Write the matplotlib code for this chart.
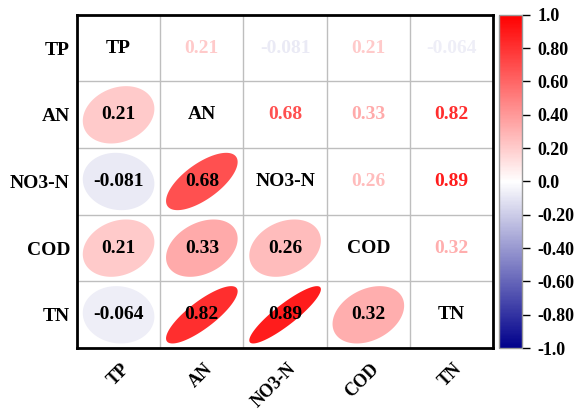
import numpy as np
import matplotlib.pyplot as plt
import matplotlib.transforms as mtransforms
from matplotlib.colors import LinearSegmentedColormap, Normalize
from matplotlib.patches import Polygon
from matplotlib import cm

plt.rcParams['font.family'] = ['Liberation Serif', 'DejaVu Serif']
plt.rcParams['font.weight'] = 'bold'

names = ['TP', 'AN', 'NO3-N', 'COD', 'TN']
corr = np.array([
    [1.0, 0.21, -0.081, 0.21, -0.064],
    [0.21, 1.0, 0.68, 0.33, 0.82],
    [-0.081, 0.68, 1.0, 0.26, 0.89],
    [0.21, 0.33, 0.26, 1.0, 0.32],
    [-0.064, 0.82, 0.89, 0.32, 1.0],
])
cbar_ticks = [1.0, 0.8, 0.6, 0.4, 0.2, 0.0, -0.2, -0.4, -0.6, -0.8, -1.0]
cbar_labels = ['1.0', '0.80', '0.60', '0.40', '0.20', '0.0',
               '-0.20', '-0.40', '-0.60', '-0.80', '-1.0']


def fmt(v):
    return '%.2g' % v


cmap = LinearSegmentedColormap.from_list('bwr2', ['#00008B', '#FFFFFF', '#FF0000'])
norm = Normalize(-1, 1)

fig = plt.figure(figsize=(5.83, 4.12), dpi=100)
ax = fig.add_axes([0.132, 0.155, 0.714, 0.809])
cax = fig.add_axes([0.856, 0.155, 0.039, 0.809])

n = len(names)
ax.set_xlim(0, n)
ax.set_ylim(n, 0)

# grid lines between cells
for k in range(1, n):
    ax.axhline(k, color='#BEBEBE', lw=1, zorder=1)
    ax.axvline(k, color='#BEBEBE', lw=1, zorder=1)

fs = 14
t = np.linspace(0, 2 * np.pi, 200)
for i in range(n):
    for j in range(n):
        r = corr[i, j]
        cx, cy = j + 0.5, i + 0.5
        if i == j:
            ax.text(cx, cy, names[i], ha='center', va='center', fontsize=fs,
                    fontweight='bold', color='black', zorder=4)
        elif j > i:
            ax.text(cx, cy, fmt(r), ha='center', va='center', fontsize=fs,
                    fontweight='bold', color=cmap(norm(r)), zorder=4)
        else:
            d = np.arccos(r)
            ex = np.cos(t + d / 2) * 0.43
            ey = -np.cos(t - d / 2) * 0.43
            ax.add_patch(Polygon(np.column_stack([cx + ex, cy + ey]), closed=True,
                                 facecolor=cmap(norm(r)), edgecolor='none', zorder=2))
            ax.text(cx, cy, fmt(r), ha='center', va='center', fontsize=fs,
                    fontweight='bold', color='black', zorder=4)

# rotated column names, right end anchored just right of the column centre
ax.set_xticks([])
off = mtransforms.ScaledTranslation(0.14, -0.12, fig.dpi_scale_trans)
for j, name in enumerate(names):
    ax.text(j + 0.5, 0, name, transform=ax.get_xaxis_transform() + off,
            rotation=45, ha='right', va='top', fontsize=13, fontweight='bold')

ax.set_yticks(np.arange(n) + 0.5)
ax.set_yticklabels(names, fontsize=14, fontweight='bold')
ax.tick_params(axis='y', length=0, pad=5)
for s in ax.spines.values():
    s.set_linewidth(2)
    s.set_color('black')

sm = cm.ScalarMappable(norm=norm, cmap=cmap)
cb = fig.colorbar(sm, cax=cax, ticks=cbar_ticks)
cb.ax.set_yticklabels(cbar_labels, fontsize=13, fontweight='bold')
cb.ax.tick_params(length=6, width=1, color='black', pad=5)
cb.outline.set_edgecolor('#999999')
cb.outline.set_linewidth(1)

fig.savefig('out.png', dpi=100)
